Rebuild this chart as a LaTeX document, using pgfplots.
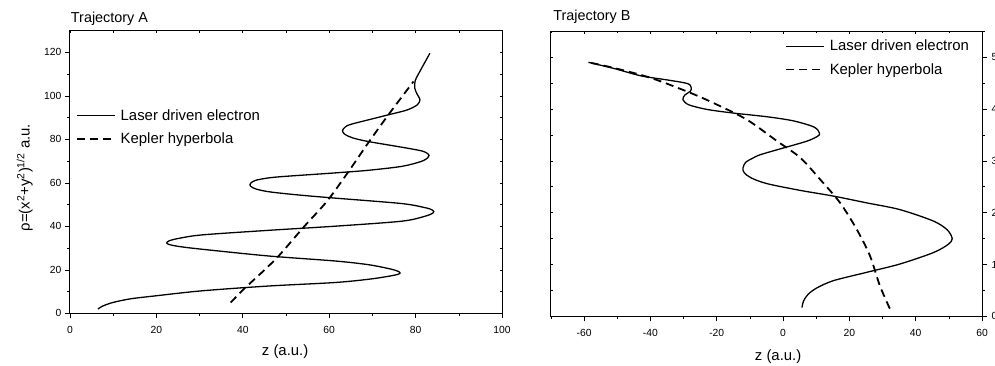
\documentclass[border=0pt]{standalone}
\usepackage{pgfplots}
\pgfplotsset{compat=1.18}
\usepackage{fontspec}
\setmainfont{Liberation Sans}
\begin{document}
\pgfplotsset{
  base/.style={
    scale only axis, clip mode=individual,
    axis line style={line width=0.9bp},
    major tick length=5bp, minor tick length=2.8bp,
    every tick/.style={black, line width=0.7bp},
    ticklabel style={font=\fontsize{10.4}{12}\selectfont},
    xticklabel style={yshift=-4bp},
    /pgf/number format/assume math mode=true,
    label style={font=\fontsize{15}{18}\selectfont},
    legend style={draw=none, fill=none, inner sep=0pt, font=\fontsize{15}{18}\selectfont,
      row sep=8bp, column sep=3.5bp, nodes={inner sep=1.5bp}},
    legend cell align=left,
    legend image code/.code={\draw[##1] (0bp,0bp) -- (38bp,0bp);},
  },
  mirror/.style={
    scale only axis, axis lines=box, axis line style={draw=none},
    tick align=inside, major tick length=2.5bp, minor tick length=2bp,
    every tick/.style={black, line width=0.6bp},
    xticklabels={}, yticklabels={},
  },
  solidc/.style={black, line width=1.3bp, smooth, tension=0.5},
  dashc/.style={black, line width=1.8bp, dash pattern=on 8bp off 5bp, smooth, tension=0.5},
}
\begin{tikzpicture}
% ---------------- Left panel ----------------
\begin{axis}[base, at={(67.3bp,52.7bp)}, anchor=south west,
  width=433.4bp, height=283.6bp,
  xmin=0, xmax=100, ymin=0, ymax=130,
  xtick={0,20,...,100}, minor xtick={10,30,...,90},
  ytick={0,20,...,120}, minor ytick={10,30,...,110},
  xtick pos=bottom, ytick pos=left, tick align=outside,
  xlabel={z (a.u.)}, ylabel={ρ=(x\textsuperscript{2}+y\textsuperscript{2})\textsuperscript{1/2} a.u.},
  xlabel style={at={(axis description cs:0.498,-0.1365)}, anchor=center},
  ylabel style={at={(axis description cs:-0.1045,0.48)}, anchor=center},
  legend style={at={(axis description cs:0.0138,0.728)}, anchor=north west},
]
\addplot[solidc] coordinates {
(6.5,2.0) (7.5,3.3) (9.9,5.0) (14,6.7) (19.9,8.1) (30.6,10.4) (46,12.6) (61.3,14.2)
(69.1,15.7) (73.2,16.9) (75.8,17.9) (76.4,18.6) (75.9,19.4) (74.0,20.5) (69.1,22.4)
(61.4,24.1) (46,26.4) (30.6,29.5) (25.5,30.7) (23.1,31.6) (22.4,32.4) (23.0,33.4)
(25.2,34.5) (30.6,36.1) (46,38.2) (61.4,40.1) (76.8,42.4) (82.2,44.7) (84.0,46.1)
(84.2,46.8) (83.7,47.7) (82.2,48.6) (76.8,50.5) (61.4,53.0) (53.7,54.3) (46.5,55.8)
(43.2,57.1) (41.8,58.5) (41.8,59.8) (43.0,61.2) (46.0,62.3) (49.8,63.0) (61.4,64.6)
(69.1,65.8) (76.8,67.6) (81.2,69.8) (82.8,71.5) (83.1,72.6) (82.6,73.7) (81.2,74.8)
(76.8,76.4) (69.1,79.0) (65.4,80.7) (63.5,82.5) (63.1,84.1) (63.6,85.5) (64.8,86.8)
(69.1,89.0) (73.7,91.3) (78.0,93.5) (80.4,95.9) (81.0,98.3) (80.4,100.6) (79.8,103.5)
(79.9,107.0) (80.8,110.6) (83.3,119.6)
};
\addlegendentry{Laser driven electron}
\addplot[dashc] coordinates {
(37.2,5.0) (40.2,11.1) (44.5,19) (48.3,26.4) (54.1,39.7) (59.5,51.6) (64.5,65.3)
(69.1,78.6) (73.7,91.3) (79.5,106.6)
};
\addlegendentry{Kepler hyperbola}
\node[anchor=base west, font=\fontsize{14.5}{17}\selectfont, inner sep=0pt]
  at (axis description cs:0.002,1.027) {Trajectory A};
\end{axis}
\begin{axis}[mirror, at={(67.3bp,52.7bp)}, anchor=south west,
  width=433.4bp, height=283.6bp,
  xmin=0, xmax=100, ymin=0, ymax=130,
  xtick={0,20,...,100}, minor xtick={10,30,...,90},
  ytick={0,20,...,120}, minor ytick={10,30,...,110},
  xtick pos=top, ytick pos=right]
\end{axis}
% ---------------- Right panel ----------------
\begin{axis}[base, at={(549.7bp,49.7bp)}, anchor=south west,
  width=432.3bp, height=286bp,
  xmin=-70, xmax=60, ymin=0, ymax=5.5,
  xtick={-60,-40,...,60}, minor xtick={-70,-50,...,50},
  ytick={0,1,...,5}, minor ytick={0.5,1.5,...,5.5},
  xtick pos=bottom, ytick pos=right, tick align=outside,
  yticklabel style={xshift=1bp},
  xlabel={z (a.u.)},
  xlabel style={at={(axis description cs:0.527,-0.142)}, anchor=center},
  legend style={at={(axis description cs:0.5427,0.975)}, anchor=north west},
]
\addplot[solidc] coordinates {
(5.7,0.17) (6.2,0.30) (7.6,0.43) (10.2,0.55) (15.2,0.69) (25.2,0.85) (35.2,1.01) (45.3,1.23)
(49.8,1.39) (51.0,1.50) (49.5,1.67) (45.3,1.84) (35.2,2.06) (25.2,2.19) (15.2,2.32)
(5.2,2.43) (-4.8,2.56) (-9.6,2.67) (-11.7,2.77) (-12.1,2.86) (-11.3,2.97) (-9.2,3.05)
(-6.8,3.12) (0.2,3.25) (7.2,3.38) (10.3,3.47) (11.0,3.53) (9.4,3.65) (3.2,3.77)
(-4.8,3.85) (-14.8,3.92) (-22.8,3.99) (-28.4,4.08) (-30.2,4.18) (-29.6,4.27)
(-28.0,4.34) (-27.7,4.41) (-28.8,4.49) (-34.9,4.56) (-42.9,4.64) (-50.9,4.78) (-58.7,4.90)
};
\addlegendentry{Laser driven electron}
\addplot[dashc] coordinates {
(32.2,0.15) (29.2,0.59) (26.2,1.17) (22.2,1.68) (17.2,2.19) (11.2,2.64) (5.2,3.06)
(-1.8,3.38) (-10.8,3.79) (-19.8,4.08) (-27.9,4.31) (-39.9,4.6) (-50.9,4.79) (-58.7,4.90)
};
\addlegendentry{Kepler hyperbola}
\node[anchor=base west, font=\fontsize{14.5}{17}\selectfont, inner sep=0pt]
  at (axis description cs:0.005,1.037) {Trajectory B};
\end{axis}
\begin{axis}[mirror, at={(549.7bp,49.7bp)}, anchor=south west,
  width=432.3bp, height=286bp,
  xmin=-70, xmax=60, ymin=0, ymax=5.5,
  xtick={-60,-40,...,60}, minor xtick={-70,-50,...,50},
  ytick={0,1,...,5}, minor ytick={0.5,1.5,...,5.5},
  xtick pos=top, ytick pos=left]
\end{axis}
\pgfresetboundingbox
\useasboundingbox (0bp,0bp) rectangle (995bp,367bp);
\end{tikzpicture}
\end{document}
